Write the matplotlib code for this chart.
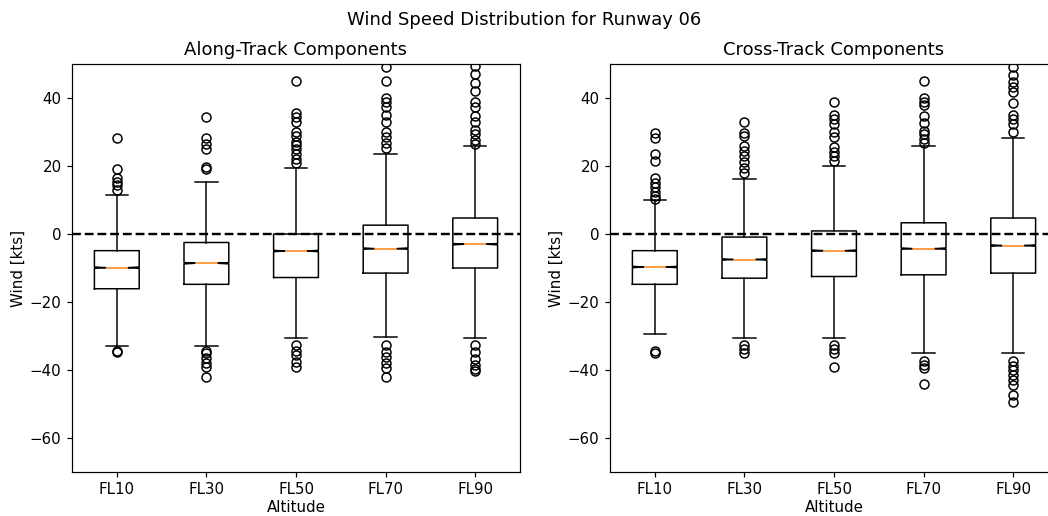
import matplotlib
matplotlib.use("Agg")
import matplotlib.pyplot as plt

altitudes = ["FL10", "FL30", "FL50", "FL70", "FL90"]

# Along-track component summary statistics (kts)
along_q1 = [-16.1, -14.8, -12.8, -11.5, -10.0]
along_med = [-9.9, -8.6, -5.0, -4.3, -3.0]
along_q3 = [-4.9, -2.5, 0.0, 2.6, 4.7]
along_whislo = [-32.8, -32.8, -30.5, -30.2, -30.5]
along_whishi = [11.6, 15.3, 19.3, 23.5, 26.0]
along_fliers = [
    [28.1, 19.1, 16.4, 15.4, 14.4, 12.9, -34.5, -34.8],
    [34.4, 28.1, 26.5, 24.9, 19.8, 19.1, -34.5, -35.1, -36.4, -37.8, -39.0, -42.2],
    [44.9, 35.5, 34.5, 32.9, 30.1, 28.8, 27.2, 26.2, 24.9, 23.5, 22.1, 20.8,
     -32.6, -34.4, -35.6, -37.6, -39.2],
    [49.0, 44.9, 39.9, 38.9, 37.5, 35.0, 33.0, 30.1, 28.4, 26.7, 25.2,
     -32.6, -34.6, -36.1, -37.8, -39.4, -42.2],
    [49.4, 47.1, 44.3, 42.2, 38.9, 37.5, 34.7, 33.0, 30.6, 29.4, 27.6, 26.5,
     -32.6, -34.8, -36.9, -38.4, -39.7, -40.2],
]

# Cross-track component summary statistics (kts)
cross_q1 = [-14.8, -13.0, -12.5, -12.0, -11.5]
cross_med = [-9.7, -7.5, -4.9, -4.3, -3.4]
cross_q3 = [-4.9, -0.9, 0.9, 3.3, 4.7]
cross_whislo = [-29.5, -30.5, -30.5, -34.9, -34.9]
cross_whishi = [9.9, 16.2, 20.0, 26.0, 28.2]
cross_fliers = [
    [29.8, 28.1, 23.5, 21.5, 16.4, 15.1, 13.9, 12.5, 11.2, 10.2, -34.3, -35.1],
    [32.8, 29.8, 28.8, 25.9, 24.5, 22.8, 21.3, 19.3, 17.8, -32.6, -33.9, -35.1],
    [38.9, 35.0, 33.7, 32.5, 30.1, 28.6, 25.7, 24.2, 22.8, 21.5,
     -32.6, -33.9, -35.1, -39.2],
    [44.9, 39.9, 38.9, 37.9, 34.7, 32.7, 30.4, 29.4, 27.8, 26.7,
     -37.4, -38.5, -39.5, -44.1],
    [49.2, 46.8, 44.8, 43.3, 41.9, 38.6, 35.0, 33.7, 32.4, 30.1,
     -37.4, -38.8, -40.0, -41.5, -43.0, -44.4, -47.4, -49.3],
]

# half-width of the median confidence interval (large samples -> shallow notch)
notch_half = 0.2


def build_stats(q1, med, q3, lo, hi, fliers):
    stats = []
    for i in range(len(altitudes)):
        stats.append(dict(
            label=altitudes[i], med=med[i], q1=q1[i], q3=q3[i],
            whislo=lo[i], whishi=hi[i], fliers=fliers[i],
            cilo=med[i] - notch_half, cihi=med[i] + notch_half,
        ))
    return stats


DPI = 108
W, H = 1048, 516
fig = plt.figure(figsize=(W / DPI, H / DPI), dpi=DPI)
ax1 = fig.add_axes([72 / W, 44 / H, 448 / W, 408 / H])
ax2 = fig.add_axes([610 / W, 44 / H, 448 / W, 408 / H])

panels = [
    (ax1, "Along-Track Components",
     build_stats(along_q1, along_med, along_q3, along_whislo, along_whishi, along_fliers)),
    (ax2, "Cross-Track Components",
     build_stats(cross_q1, cross_med, cross_q3, cross_whislo, cross_whishi, cross_fliers)),
]

for ax, title, stats in panels:
    ax.bxp(stats, shownotches=True, widths=0.5)
    ax.axhline(0, color="k", linestyle="--", linewidth=1.6)
    ax.set_ylim(-70, 50)
    ax.set_title(title, fontsize=12)
    ax.set_xlabel("Altitude", fontsize=10, labelpad=1.5)
    ax.set_ylabel("Wind [kts]", fontsize=10, labelpad=2.5)
    ax.tick_params(labelsize=10)

fig.suptitle("Wind Speed Distribution for Runway 06", fontsize=12, y=0.978)
fig.savefig("out.png", dpi=DPI)
